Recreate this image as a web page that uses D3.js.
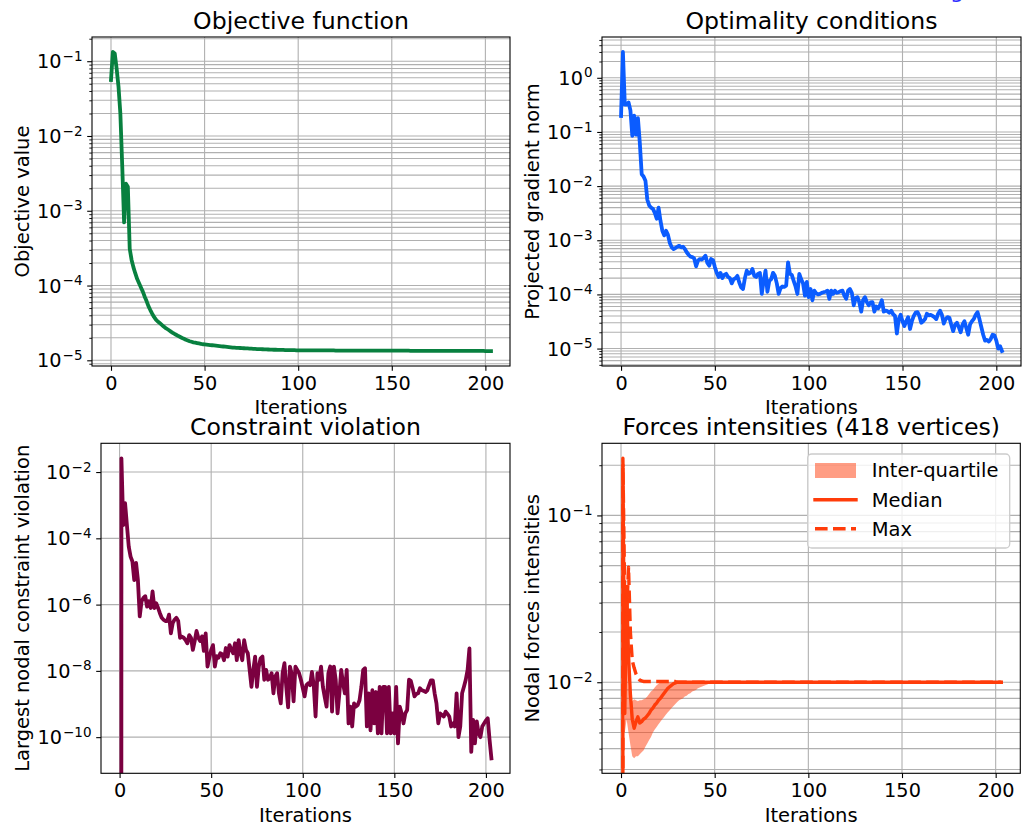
<!DOCTYPE html>
<html><head><meta charset="utf-8">
<script src="https://cdn.jsdelivr.net/npm/d3@7"></script>
<style>
body{margin:0;background:#fff;}
svg{display:block;font-family:"DejaVu Sans",sans-serif;}
</style></head><body>
<svg id="c" width="1024" height="828"></svg>
<script>
// ---------------- DATA ----------------
const iterations = d3.range(204);
const xTicks = [0, 50, 100, 150, 200];

const objective = [
0.056,0.133,0.127,0.08,0.046,0.02,0.004,7.0e-4,2.3e-3,2.1e-3,
3.1e-4,2.2e-4,1.75e-4,1.45e-4,1.22e-4,1.07e-4,9.4e-5,8.3e-5,7.1e-5,6.2e-5,
5.3e-5,4.7e-5,4.2e-5,3.8e-5,3.5e-5,3.3e-5,3.15e-5,3.0e-5,2.85e-5,2.72e-5,
2.62e-5,2.52e-5,2.42e-5,2.33e-5,2.25e-5,2.18e-5,2.11e-5,2.05e-5,1.99e-5,1.94e-5,
1.88e-5,1.84e-5,1.80e-5,1.77e-5,1.74e-5,1.72e-5,1.70e-5,1.68e-5,1.66e-5,1.64e-5,
1.63e-5,1.62e-5,1.61e-5,1.60e-5,1.59e-5,1.58e-5,1.57e-5,1.56e-5,1.55e-5,1.54e-5,
1.53e-5,1.52e-5,1.51e-5,1.50e-5,1.49e-5,1.48e-5,1.475e-5,1.47e-5,1.465e-5,1.46e-5,
1.455e-5,1.45e-5,1.445e-5,1.44e-5,1.435e-5,1.43e-5,1.425e-5,1.42e-5,1.415e-5,1.41e-5,
1.41e-5,1.405e-5,1.40e-5,1.40e-5,1.395e-5,1.39e-5,1.39e-5,1.385e-5,1.385e-5,1.38e-5,
1.38e-5,1.375e-5,1.375e-5,1.37e-5,1.37e-5,1.37e-5,1.365e-5,1.365e-5,1.365e-5,1.36e-5,
1.36e-5,1.36e-5,1.36e-5,1.36e-5,1.36e-5,1.36e-5,1.36e-5,1.36e-5,1.36e-5,1.36e-5,
1.355e-5,1.355e-5,1.355e-5,1.355e-5,1.355e-5,1.355e-5,1.355e-5,1.355e-5,1.355e-5,1.355e-5,
1.35e-5,1.35e-5,1.35e-5,1.35e-5,1.35e-5,1.35e-5,1.35e-5,1.35e-5,1.35e-5,1.35e-5,
1.35e-5,1.35e-5,1.35e-5,1.35e-5,1.35e-5,1.35e-5,1.35e-5,1.35e-5,1.35e-5,1.35e-5,
1.345e-5,1.345e-5,1.345e-5,1.345e-5,1.345e-5,1.345e-5,1.345e-5,1.345e-5,1.345e-5,1.345e-5,
1.345e-5,1.345e-5,1.345e-5,1.345e-5,1.345e-5,1.345e-5,1.345e-5,1.345e-5,1.345e-5,1.345e-5,
1.34e-5,1.34e-5,1.34e-5,1.34e-5,1.34e-5,1.34e-5,1.34e-5,1.34e-5,1.34e-5,1.34e-5,
1.34e-5,1.34e-5,1.34e-5,1.34e-5,1.34e-5,1.34e-5,1.34e-5,1.34e-5,1.34e-5,1.34e-5,
1.335e-5,1.335e-5,1.335e-5,1.335e-5,1.335e-5,1.335e-5,1.335e-5,1.335e-5,1.335e-5,1.335e-5,
1.335e-5,1.335e-5,1.335e-5,1.335e-5,1.335e-5,1.335e-5,1.335e-5,1.335e-5,1.335e-5,1.335e-5,
1.33e-5,1.33e-5,1.33e-5,1.33e-5
];

const gradientNorm = [
0.197,3.0,0.32,0.32,0.35,0.25,0.085,0.2,0.089,0.18,
0.063,0.0166,0.0151,0.0126,0.0056,0.0044,0.004,0.0038,0.0032,0.0025,
0.004,0.0023,0.0015,0.00123,0.0015,0.00126,8.9e-4,7.4e-4,6.9e-4,7.2e-4,
7.6e-4,7.9e-4,7.4e-4,7.6e-4,6.9e-4,6.0e-4,5.4e-4,5.0e-4,4.9e-4,4.6e-4,
3.3e-4,4.2e-4,4.5e-4,4.4e-4,4.7e-4,5.2e-4,3.8e-4,3.4e-4,4.5e-4,4.3e-4,
3.2e-4,2.5e-4,2.1e-4,2.5e-4,2.0e-4,2.3e-4,2.4e-4,2.1e-4,2.0e-4,1.6e-4,
1.9e-4,2.0e-4,2.2e-4,1.66e-4,1.35e-4,1.26e-4,2.0e-4,2.75e-4,2.4e-4,2.5e-4,
2.95e-4,2.2e-4,2.1e-4,2.4e-4,2.5e-4,1.02e-4,1.78e-4,2.75e-4,1.12e-4,1.78e-4,
1.9e-4,2.5e-4,2.2e-4,1.6e-4,1.02e-4,1.3e-4,1.4e-4,1.38e-4,1.45e-4,3.9e-4,
2.4e-4,2.3e-4,1.78e-4,1.4e-4,1.02e-4,2.4e-4,1.9e-4,1.6e-4,9.5e-5,1.7e-4,
8.9e-5,1.26e-4,7.8e-5,1.17e-4,1.05e-4,1.0e-4,1.02e-4,1.07e-4,1.1e-4,1.12e-4,
1.17e-4,8.3e-5,1.17e-4,1.02e-4,1.17e-4,1.07e-4,1.1e-4,1.15e-4,1.17e-4,9.5e-5,
8.3e-5,1.17e-4,1.26e-4,1.07e-4,6.3e-5,8.5e-5,8.9e-5,7.1e-5,4.8e-5,7.9e-5,
8.9e-5,7.2e-5,6.3e-5,7.1e-5,7.2e-5,4.8e-5,6.0e-5,5.5e-5,6.3e-5,7.8e-5,
4.8e-5,5.0e-5,4.9e-5,4.6e-5,5.0e-5,4.3e-5,4.0e-5,1.9e-5,3.5e-5,4.2e-5,
3.2e-5,2.6e-5,3.2e-5,3.8e-5,2.3e-5,3.2e-5,4.0e-5,4.6e-5,4.7e-5,4.0e-5,
3.0e-5,3.2e-5,3.5e-5,4.4e-5,4.1e-5,4.2e-5,4.0e-5,3.8e-5,3.5e-5,4.4e-5,
5.0e-5,4.2e-5,2.9e-5,3.5e-5,3.8e-5,3.7e-5,2.75e-5,2.1e-5,2.75e-5,3.0e-5,
2.5e-5,2.0e-5,2.8e-5,3.2e-5,2.4e-5,1.8e-5,2.8e-5,3.2e-5,3.5e-5,4.2e-5,
4.7e-5,3.5e-5,2.5e-5,1.8e-5,1.4e-5,1.45e-5,1.35e-5,1.5e-5,1.8e-5,1.75e-5,
1.4e-5,1.0e-5,1.1e-5,9.0e-6
];

const constraintViolation = [
0,2.6e-2,2.5e-4,1.15e-3,2.5e-4,5.6e-5,2.8e-5,2.0e-5,5.5e-6,1.8e-5,
5.5e-6,4.4e-7,1.26e-6,1.6e-6,1.8e-6,8.7e-7,1.26e-6,7.9e-7,2.5e-6,7.9e-7,
1.1e-6,7.9e-7,5.5e-7,4.0e-7,3.5e-7,3.2e-7,3.2e-7,5.0e-7,1.35e-7,2.75e-7,
3.5e-7,4.0e-7,3.2e-7,1.0e-7,1.07e-7,1.0e-7,8.5e-8,6.8e-8,1.2e-7,1.0e-7,
4.3e-8,7.9e-8,1.6e-7,1.0e-7,7.9e-8,1.1e-7,4.0e-8,1.35e-7,1.35e-8,2.5e-8,
4.3e-8,6.0e-8,1.35e-8,2.8e-8,2.5e-8,3.4e-8,3.2e-8,2.1e-8,4.9e-8,2.7e-8,
6.0e-8,4.5e-8,3.4e-8,6.8e-8,2.1e-8,8.5e-8,3.4e-8,2.1e-8,8.5e-8,4.3e-8,
3.4e-8,1.07e-8,3.3e-9,1.07e-8,2.7e-8,3.3e-9,1.35e-8,2.4e-8,2.7e-8,5.4e-9,
1.07e-8,5.4e-9,6.0e-9,8.5e-9,2.1e-9,6.8e-9,8.5e-9,2.1e-9,1.05e-9,8.5e-9,
1.7e-8,3.3e-9,7.9e-10,1.35e-8,7.9e-9,1.2e-9,1.35e-8,1.07e-8,8.5e-9,5.4e-9,
3.0e-9,1.7e-9,3.7e-9,4.2e-9,3.7e-9,9.3e-9,3.7e-9,4.2e-10,8.5e-9,5.4e-9,
1.35e-8,3.3e-9,1.6e-9,8.3e-10,8.5e-9,1.35e-8,5.9e-10,1.35e-8,5.4e-9,5.2e-10,
2.1e-9,1.07e-8,4.2e-9,2.1e-9,1.07e-8,2.6e-10,8.3e-10,2.1e-10,1.05e-9,8.3e-10,
9.3e-10,1.3e-9,3.3e-9,1.07e-8,1.2e-8,2.1e-10,2.1e-9,1.6e-10,2.6e-9,2.6e-10,
2.3e-9,1.3e-10,3.3e-9,1.3e-10,3.3e-9,3.3e-9,1.3e-10,3.3e-9,1.3e-10,5.2e-10,
1.3e-10,3.3e-9,6.5e-11,8.3e-10,5.2e-10,2.6e-10,5.2e-10,6.6e-10,5.4e-9,5.0e-9,
3.0e-9,1.7e-9,2.0e-9,2.1e-9,3.0e-9,2.6e-9,2.5e-9,2.3e-9,2.6e-9,3.7e-9,
5.2e-9,5.2e-9,2.1e-9,1.05e-9,2.6e-10,5.2e-10,4.7e-10,4.2e-10,5.9e-10,5.0e-10,
4.2e-10,2.1e-10,2.6e-10,2.1e-10,2.1e-9,1.0e-10,2.1e-10,2.1e-9,3.3e-9,5.4e-9,
1.07e-8,4.8e-8,3.6e-11,3.3e-10,6.5e-11,3.0e-10,1.3e-10,1.0e-10,2.1e-10,2.6e-10,
3.2e-10,3.7e-10,8.3e-11,2.3e-11
];

const forceMedian = [
0,0.2,0.0065,0.035,0.0145,0.0085,0.006,0.0053,0.0058,0.0062,
0.0057,0.0058,0.006,0.0061,0.0063,0.0065,0.0068,0.007,0.0073,0.0075,
0.0078,0.008,0.0083,0.0086,0.0089,0.0092,0.0094,0.0096,0.0098,0.0099,
0.01,0.01,0.01,0.01,0.01,0.01,0.01,0.01,0.01,0.01,
0.01,0.01,0.01,0.01,0.01,0.01,0.01,0.01,0.01,0.01,
0.01,0.01,0.01,0.01,0.01,0.01,0.01,0.01,0.01,0.01,
0.01,0.01,0.01,0.01,0.01,0.01,0.01,0.01,0.01,0.01,
0.01,0.01,0.01,0.01,0.01,0.01,0.01,0.01,0.01,0.01,
0.01,0.01,0.01,0.01,0.01,0.01,0.01,0.01,0.01,0.01,
0.01,0.01,0.01,0.01,0.01,0.01,0.01,0.01,0.01,0.01,
0.01,0.01,0.01,0.01,0.01,0.01,0.01,0.01,0.01,0.01,
0.01,0.01,0.01,0.01,0.01,0.01,0.01,0.01,0.01,0.01,
0.01,0.01,0.01,0.01,0.01,0.01,0.01,0.01,0.01,0.01,
0.01,0.01,0.01,0.01,0.01,0.01,0.01,0.01,0.01,0.01,
0.01,0.01,0.01,0.01,0.01,0.01,0.01,0.01,0.01,0.01,
0.01,0.01,0.01,0.01,0.01,0.01,0.01,0.01,0.01,0.01,
0.01,0.01,0.01,0.01,0.01,0.01,0.01,0.01,0.01,0.01,
0.01,0.01,0.01,0.01,0.01,0.01,0.01,0.01,0.01,0.01,
0.01,0.01,0.01,0.01,0.01,0.01,0.01,0.01,0.01,0.01,
0.01,0.01,0.01,0.01,0.01,0.01,0.01,0.01,0.01,0.01,
0.01,0.01,0.01,0.01
];

const forceMax = [
0,0.22,0.03,0.025,0.049,0.02,0.0135,0.0122,0.0112,0.0106,
0.0103,0.0102,0.0101,0.0101,0.0101,0.0101,0.0101,0.0101,0.0101,0.0101,
0.0101,0.0101,0.0101,0.0101,0.0101,0.0101,0.0101,0.0101,0.0101,0.0101,
0.01,0.01,0.01,0.01,0.01,0.01,0.01,0.01,0.01,0.01,
0.01,0.01,0.01,0.01,0.01,0.01,0.01,0.01,0.01,0.01,
0.01,0.01,0.01,0.01,0.01,0.01,0.01,0.01,0.01,0.01,
0.01,0.01,0.01,0.01,0.01,0.01,0.01,0.01,0.01,0.01,
0.01,0.01,0.01,0.01,0.01,0.01,0.01,0.01,0.01,0.01,
0.01,0.01,0.01,0.01,0.01,0.01,0.01,0.01,0.01,0.01,
0.01,0.01,0.01,0.01,0.01,0.01,0.01,0.01,0.01,0.01,
0.01,0.01,0.01,0.01,0.01,0.01,0.01,0.01,0.01,0.01,
0.01,0.01,0.01,0.01,0.01,0.01,0.01,0.01,0.01,0.01,
0.01,0.01,0.01,0.01,0.01,0.01,0.01,0.01,0.01,0.01,
0.01,0.01,0.01,0.01,0.01,0.01,0.01,0.01,0.01,0.01,
0.01,0.01,0.01,0.01,0.01,0.01,0.01,0.01,0.01,0.01,
0.01,0.01,0.01,0.01,0.01,0.01,0.01,0.01,0.01,0.01,
0.01,0.01,0.01,0.01,0.01,0.01,0.01,0.01,0.01,0.01,
0.01,0.01,0.01,0.01,0.01,0.01,0.01,0.01,0.01,0.01,
0.01,0.01,0.01,0.01,0.01,0.01,0.01,0.01,0.01,0.01,
0.01,0.01,0.01,0.01,0.01,0.01,0.01,0.01,0.01,0.01,
0.01,0.01,0.01,0.01
];

const forceQ3 = [
0,0.2,0.012,0.02,0.0095,0.0078,0.0077,0.0079,0.0078,0.0077,
0.0078,0.0078,0.0079,0.008,0.0082,0.0085,0.0088,0.009,0.0093,0.0096,
0.0098,0.01,0.01,0.01,0.01,0.01,0.01,0.01,0.01,0.01,
0.01,0.01,0.01,0.01,0.01,0.01,0.01,0.01,0.01,0.01,
0.01,0.01,0.01,0.01,0.01,0.01,0.01,0.01,0.01,0.01,
0.01,0.01,0.01,0.01,0.01,0.01,0.01,0.01,0.01,0.01,
0.01,0.01,0.01,0.01,0.01,0.01,0.01,0.01,0.01,0.01,
0.01,0.01,0.01,0.01,0.01,0.01,0.01,0.01,0.01,0.01,
0.01,0.01,0.01,0.01,0.01,0.01,0.01,0.01,0.01,0.01,
0.01,0.01,0.01,0.01,0.01,0.01,0.01,0.01,0.01,0.01,
0.01,0.01,0.01,0.01,0.01,0.01,0.01,0.01,0.01,0.01,
0.01,0.01,0.01,0.01,0.01,0.01,0.01,0.01,0.01,0.01,
0.01,0.01,0.01,0.01,0.01,0.01,0.01,0.01,0.01,0.01,
0.01,0.01,0.01,0.01,0.01,0.01,0.01,0.01,0.01,0.01,
0.01,0.01,0.01,0.01,0.01,0.01,0.01,0.01,0.01,0.01,
0.01,0.01,0.01,0.01,0.01,0.01,0.01,0.01,0.01,0.01,
0.01,0.01,0.01,0.01,0.01,0.01,0.01,0.01,0.01,0.01,
0.01,0.01,0.01,0.01,0.01,0.01,0.01,0.01,0.01,0.01,
0.01,0.01,0.01,0.01,0.01,0.01,0.01,0.01,0.01,0.01,
0.01,0.01,0.01,0.01,0.01,0.01,0.01,0.01,0.01,0.01,
0.01,0.01,0.01,0.01
];

const forceQ1 = [
0,0.2,0.005,0.006,0.005,0.0042,0.0036,0.0035,0.0036,0.0036,
0.0037,0.0038,0.0039,0.0041,0.0043,0.0045,0.0047,0.005,0.0052,0.0054,
0.0056,0.0058,0.006,0.0062,0.0064,0.0066,0.0068,0.007,0.0072,0.0074,
0.0076,0.0078,0.0079,0.008,0.0082,0.0083,0.0085,0.0086,0.0088,0.0089,
0.009,0.0092,0.0093,0.0094,0.0095,0.0096,0.0097,0.0098,0.0099,0.01,
0.01,0.01,0.01,0.01,0.01,0.01,0.01,0.01,0.01,0.01,
0.01,0.01,0.01,0.01,0.01,0.01,0.01,0.01,0.01,0.01,
0.01,0.01,0.01,0.01,0.01,0.01,0.01,0.01,0.01,0.01,
0.01,0.01,0.01,0.01,0.01,0.01,0.01,0.01,0.01,0.01,
0.01,0.01,0.01,0.01,0.01,0.01,0.01,0.01,0.01,0.01,
0.01,0.01,0.01,0.01,0.01,0.01,0.01,0.01,0.01,0.01,
0.01,0.01,0.01,0.01,0.01,0.01,0.01,0.01,0.01,0.01,
0.01,0.01,0.01,0.01,0.01,0.01,0.01,0.01,0.01,0.01,
0.01,0.01,0.01,0.01,0.01,0.01,0.01,0.01,0.01,0.01,
0.01,0.01,0.01,0.01,0.01,0.01,0.01,0.01,0.01,0.01,
0.01,0.01,0.01,0.01,0.01,0.01,0.01,0.01,0.01,0.01,
0.01,0.01,0.01,0.01,0.01,0.01,0.01,0.01,0.01,0.01,
0.01,0.01,0.01,0.01,0.01,0.01,0.01,0.01,0.01,0.01,
0.01,0.01,0.01,0.01,0.01,0.01,0.01,0.01,0.01,0.01,
0.01,0.01,0.01,0.01,0.01,0.01,0.01,0.01,0.01,0.01,
0.01,0.01,0.01,0.01
];

const objTicks = [1e-5, 1e-4, 1e-3, 1e-2, 1e-1];
const gradTicks = [1e-5, 1e-4, 1e-3, 1e-2, 1e-1, 1];
const consTicks = [1e-10, 1e-8, 1e-6, 1e-4, 1e-2];
const forceTicks = [1e-2, 1e-1];
const legendLabels = ["Inter-quartile", "Median", "Max"];

// ---------------- DRAWING ----------------
const svg = d3.select('#c');
const FONT = '"DejaVu Sans", sans-serif';
const xExt = d3.extent(iterations);
const xPad = (xExt[1] - xExt[0]) * 0.05;
const xDomain = [xExt[0] - xPad, xExt[1] + xPad];

function logDomain(arrays) {
  const pos = arrays.flat().filter(v => v > 0);
  const lo = Math.log10(d3.min(pos)), hi = Math.log10(d3.max(pos));
  const m = (hi - lo) * 0.05;
  return [Math.pow(10, lo - m), Math.pow(10, hi + m)];
}
function minorTicks(dom) {
  const out = [];
  for (let e = Math.floor(Math.log10(dom[0])); e <= Math.ceil(Math.log10(dom[1])); e++)
    for (let k = 2; k <= 9; k++) { const v = k * Math.pow(10, e); if (v >= dom[0] && v <= dom[1]) out.push(v); }
  return out;
}
const SAFE = v => (v > 0 ? v : 1e-300);

const GRID = '#b0b0b0';
const TICKFS = 19.3, LABELFS = 19.5, TITLEFS = 23.6;

function drawPanel(cfg) {
  const [L, T, R, B] = cfg.box;
  const g = svg.append('g');
  const x = d3.scaleLinear().domain(xDomain).range([L, R]);
  const dom = logDomain(cfg.domainSeries);
  const y = d3.scaleLog().domain(dom).range([B, T]);
  const clipId = 'clip-' + cfg.key;
  svg.append('clipPath').attr('id', clipId).append('rect')
    .attr('x', L).attr('y', T).attr('width', R - L).attr('height', B - T);

  // grid
  const grid = g.append('g');
  const minors = cfg.minor ? minorTicks(dom) : [];
  const yGridVals = cfg.yTicks.filter(v => v >= dom[0] && v <= dom[1]).concat(minors);
  grid.selectAll('line.gy').data(yGridVals).join('line')
    .attr('x1', L).attr('x2', R).attr('y1', d => y(d)).attr('y2', d => y(d))
    .attr('stroke', GRID).attr('stroke-width', 1.1);
  grid.selectAll('line.gx').data(xTicks).join('line')
    .attr('x1', d => x(d)).attr('x2', d => x(d)).attr('y1', T).attr('y2', B)
    .attr('stroke', GRID).attr('stroke-width', 1.1);

  // data
  const plot = g.append('g').attr('clip-path', `url(#${clipId})`);
  if (cfg.draw) cfg.draw(plot, x, y);

  // axes
  const xa = g.append('g').attr('transform', `translate(0,${B})`)
    .call(d3.axisBottom(x).tickValues(xTicks).tickSize(4.8).tickPadding(5).tickFormat(d3.format('d')));
  xa.select('.domain').remove();
  xa.selectAll('line').attr('stroke', '#000').attr('stroke-width', 1.1);
  xa.selectAll('text').attr('font-family', FONT).attr('font-size', TICKFS).attr('fill', '#000');

  const ya = g.append('g').attr('transform', `translate(${L},0)`)
    .call(d3.axisLeft(y).tickValues(cfg.yTicks.filter(v => v >= dom[0] && v <= dom[1])).tickSize(4.8).tickPadding(4.7).tickFormat(() => ''));
  ya.select('.domain').remove();
  ya.selectAll('line').attr('stroke', '#000').attr('stroke-width', 1.1);
  ya.selectAll('text').attr('font-family', FONT).attr('font-size', TICKFS).attr('fill', '#000')
    .attr('dy', null).attr('y', 6.5)
    .each(function (d) {
      const t = d3.select(this);
      const e = Math.round(Math.log10(d));
      t.append('tspan').text('10');
      t.append('tspan').attr('font-size', 13.5).attr('dx', 1).attr('dy', -7.4)
        .text(e < 0 ? '\u2212' + Math.abs(e) : String(e));
    });
  if (minors.length) {
    const ym = g.append('g').attr('transform', `translate(${L},0)`)
      .call(d3.axisLeft(y).tickValues(minors).tickSize(2.7).tickFormat(() => ''));
    ym.select('.domain').remove();
    ym.selectAll('line').attr('stroke', '#000').attr('stroke-width', 0.9);
  }

  // spines
  g.append('rect').attr('x', L).attr('y', T).attr('width', R - L).attr('height', B - T)
    .attr('fill', 'none').attr('stroke', '#000').attr('stroke-width', 1.1);

  // labels
  g.append('text').attr('x', (L + R) / 2).attr('y', T - 8.2).attr('text-anchor', 'middle')
    .attr('font-family', FONT).attr('font-size', TITLEFS).text(cfg.title);
  g.append('text').attr('x', (L + R) / 2).attr('y', B + 48.4).attr('text-anchor', 'middle')
    .attr('font-family', FONT).attr('font-size', LABELFS).text('Iterations');
  const bb = ya.node().getBBox();
  const lx = L + bb.x - 8;
  g.append('text').attr('transform', `translate(${lx},${(T + B) / 2}) rotate(-90)`)
    .attr('text-anchor', 'middle').attr('font-family', FONT).attr('font-size', LABELFS).text(cfg.ylabel);
  return { x, y, g };
}

function simpleLine(values, color, width) {
  return (plot, x, y) => {
    plot.append('path').datum(values)
      .attr('d', d3.line().x((d, i) => x(iterations[i])).y(d => y(SAFE(d))))
      .attr('fill', 'none').attr('stroke', color).attr('stroke-width', width)
      .attr('stroke-linejoin', 'round').attr('stroke-linecap', 'square');
  };
}

const LW = 3.8;
drawPanel({ key: 'obj', box: [92, 37, 510, 366], title: 'Objective function', ylabel: 'Objective value',
  domainSeries: [objective], yTicks: objTicks, minor: true, draw: simpleLine(objective, '#08803f', LW) });
drawPanel({ key: 'grad', box: [602, 37, 1021, 366], title: 'Optimality conditions', ylabel: 'Projected gradient norm',
  domainSeries: [gradientNorm], yTicks: gradTicks, minor: true, draw: simpleLine(gradientNorm, '#0b5cff', LW) });
drawPanel({ key: 'cons', box: [101, 443.3, 510, 773.3], title: 'Constraint violation', ylabel: 'Largest nodal constraint violation',
  domainSeries: [constraintViolation], yTicks: consTicks, minor: false, draw: simpleLine(constraintViolation, '#7b0040', LW) });

const FCOL = '#ff3c0a';
const FLW = 3.4;
drawPanel({ key: 'force', box: [602, 443.3, 1020.3, 773.3], title: 'Forces intensities (418 vertices)',
  ylabel: 'Nodal forces intensities', domainSeries: [forceMedian, forceMax, forceQ1, forceQ3], yTicks: forceTicks, minor: true,
  draw: (plot, x, y) => {
    const band = iterations.map((it, i) => ({ it, lo: forceQ1[i], hi: forceQ3[i] }));
    plot.append('path').datum(band)
      .attr('d', d3.area().defined(d => d.lo > 0 && d.hi > 0).x(d => x(d.it)).y0(d => y(d.lo)).y1(d => y(d.hi)))
      .attr('fill', FCOL).attr('fill-opacity', 0.5).attr('stroke', 'none');
    plot.append('path').datum(forceMedian)
      .attr('d', d3.line().x((d, i) => x(iterations[i])).y(d => y(SAFE(d))))
      .attr('fill', 'none').attr('stroke', FCOL).attr('stroke-width', FLW)
      .attr('stroke-linejoin', 'round').attr('stroke-linecap', 'square');
    plot.append('path').datum(forceMax)
      .attr('d', d3.line().x((d, i) => x(iterations[i])).y(d => y(SAFE(d))))
      .attr('fill', 'none').attr('stroke', FCOL).attr('stroke-width', FLW)
      .attr('stroke-dasharray', '12.6,5.4').attr('stroke-linejoin', 'round').attr('stroke-linecap', 'butt');
  } });

// legend
const lg = svg.append('g');
lg.append('rect').attr('x', 807.7).attr('y', 454).attr('width', 202).attr('height', 94).attr('rx', 4)
  .attr('fill', '#fff').attr('fill-opacity', 0.8).attr('stroke', '#cccccc').attr('stroke-width', 1.3);
const rowY = [470.5, 499.7, 528.7];
lg.append('rect').attr('x', 815).attr('y', rowY[0] - 7.5).attr('width', 41).attr('height', 15)
  .attr('fill', FCOL).attr('fill-opacity', 0.5);
lg.append('line').attr('x1', 815).attr('x2', 856).attr('y1', rowY[1]).attr('y2', rowY[1])
  .attr('stroke', FCOL).attr('stroke-width', FLW).attr('stroke-linecap', 'square');
lg.append('line').attr('x1', 815).attr('x2', 856).attr('y1', rowY[2]).attr('y2', rowY[2])
  .attr('stroke', FCOL).attr('stroke-width', FLW).attr('stroke-dasharray', '12.6,5.4');
lg.selectAll('text.leg').data(legendLabels).join('text')
  .attr('x', 871.7).attr('y', (d, i) => rowY[i] + 6.8)
  .attr('font-family', FONT).attr('font-size', LABELFS).text(d => d);

// small cut-off blue glyph visible at the very top edge of the reference
svg.append('text').attr('x', 950).attr('y', -2).attr('font-family', FONT).attr('font-size', 22)
  .attr('fill', '#2b2bff').text('g');
</script>
</body></html>
